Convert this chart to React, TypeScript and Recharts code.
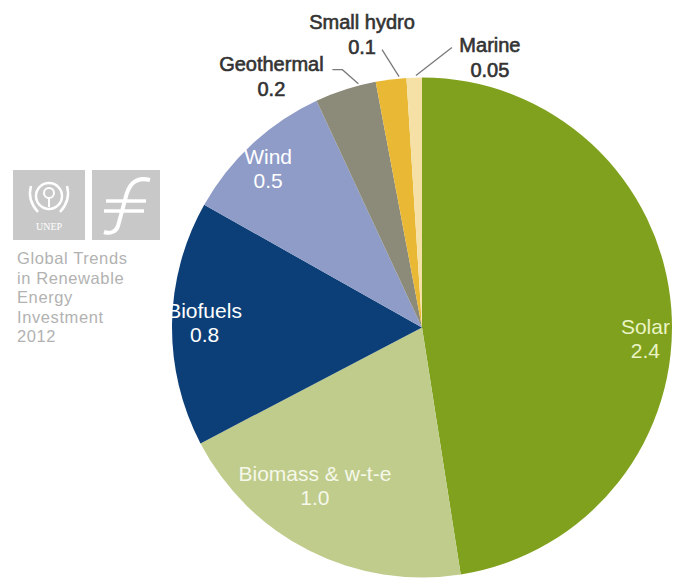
import { Cell, Pie, PieChart } from "recharts";

const sources = ["Solar", "Biomass & w-t-e", "Biofuels", "Wind", "Geothermal", "Small hydro", "Marine"];
const amounts = [2.4, 1.0, 0.8, 0.5, 0.2, 0.1, 0.05];
const amountLabels = ["2.4", "1.0", "0.8", "0.5", "0.2", "0.1", "0.05"];
const sliceColors = ["#80a11d", "#bfcc8c", "#0c3f77", "#8f9cc8", "#8c8a78", "#e9b935", "#f5e1a6"];
const noteLines = ["Global Trends", "in Renewable", "Energy", "Investment", "2012"];

const data = sources.map((name, i) => ({ name, value: amounts[i], text: amountLabels[i] }));

const RAD = Math.PI / 180;
const FONT = '"Liberation Sans", Arial, sans-serif';

// inside labels: radius factor + angle nudge (deg, counter-clockwise)
const insideCfg: Record<string, { rf: number; da: number; color: string }> = {
  Solar: { rf: 0.895, da: -7.5, color: "#eaf4c6" },
  "Biomass & w-t-e": { rf: 0.765, da: -7.3, color: "#f6f8ea" },
  Biofuels: { rf: 0.87, da: -0.4, color: "#ffffff" },
  Wind: { rf: 0.885, da: 1.3, color: "#ffffff" },
};

// outside labels: leader end on the slice edge, text and elbow offsets from it
const outsideCfg: Record<string, { da: number; tx: number; ty: number; pts: number[][] }> = {
  Geothermal: { da: -3.2, tx: -87, ty: -20, pts: [[-26, -14], [-16, -14]] },
  "Small hydro": { da: -1.9, tx: -37, ty: -55, pts: [[-17, -27]] },
  Marine: { da: -0.4, tx: 74, ty: -31, pts: [[36, -28]] },
};

function renderLabel(props: any) {
  const { cx, cy, midAngle, outerRadius, name, payload } = props;
  const label = payload?.text ?? "";
  const inCfg = insideCfg[name];
  if (inCfg) {
    const a = (midAngle + inCfg.da) * RAD;
    const x = cx + outerRadius * inCfg.rf * Math.cos(a);
    const y = cy - outerRadius * inCfg.rf * Math.sin(a);
    return (
      <text x={x} y={y} textAnchor="middle" fill={inCfg.color} fontSize={21} fontFamily={FONT}>
        <tspan x={x} dy={-5}>{name}</tspan>
        <tspan x={x} dy={24}>{label}</tspan>
      </text>
    );
  }
  const o = outsideCfg[name];
  if (!o) return null;
  const a = (midAngle + o.da) * RAD;
  const ex = cx + (outerRadius + 2) * Math.cos(a);
  const ey = cy - (outerRadius + 2) * Math.sin(a);
  const line = [...o.pts.map(([dx, dy]) => [ex + dx, ey + dy]), [ex, ey]]
    .map((p, i) => `${i === 0 ? "M" : "L"}${p[0]},${p[1]}`)
    .join(" ");
  const tx = ex + o.tx;
  const ty = ey + o.ty;
  return (
    <g>
      <path d={line} stroke="#7a7a7a" strokeWidth={1.3} fill="none" />
      <text
        x={tx}
        y={ty}
        textAnchor="middle"
        dominantBaseline="central"
        fill="#333"
        stroke="#333"
        strokeWidth={0.6}
        fontSize={20}
        fontFamily={FONT}
      >
        <tspan x={tx}>{name}</tspan>
        <tspan x={tx} dy={25}>{label}</tspan>
      </text>
    </g>
  );
}

function Badge() {
  return (
    <svg width={180} height={360} style={{ position: "absolute", left: 0, top: 0 }}>
      <rect x={13} y={170} width={72} height={70} fill="#c8c8c8" />
      <rect x={92} y={170} width={68} height={70} fill="#c8c8c8" />
      {/* UNEP globe + wreath */}
      <circle cx={49} cy={196} r={13} fill="none" stroke="#fff" strokeWidth={2.5} />
      <circle cx={49} cy={193} r={5} fill="none" stroke="#fff" strokeWidth={2} />
      <line x1={49} y1={198} x2={49} y2={207} stroke="#fff" strokeWidth={2} />
      <path d="M31 186 Q27 200 38 212" fill="none" stroke="#fff" strokeWidth={2.5} />
      <path d="M67 186 Q71 200 60 212" fill="none" stroke="#fff" strokeWidth={2.5} />
      <text x={49} y={230} textAnchor="middle" fill="#fff" fontSize={10} fontFamily="Liberation Serif, serif">
        UNEP
      </text>
      {/* stylised f */}
      <path d="M150 180 C134 176 128 186 125 200 L118 226 C116 232 110 234 104 232" fill="none" stroke="#fff" strokeWidth={4} />
      <line x1={106} y1={201} x2={146} y2={201} stroke="#fff" strokeWidth={3.5} />
      <line x1={104} y1={211} x2={144} y2={211} stroke="#fff" strokeWidth={3.5} />
      {noteLines.map((t, i) => (
        <text
          key={t}
          x={17}
          y={258 + i * 19.6}
          dominantBaseline="central"
          fill="#b2b2b2"
          fontSize={16.5}
          letterSpacing={0.6}
          fontFamily={FONT}
        >
          {t}
        </text>
      ))}
    </svg>
  );
}

export default function App() {
  return (
    <div style={{ position: "absolute", left: 0, top: 0, width: 678, height: 582, background: "#fff" }}>
      <PieChart width={678} height={582} margin={{ top: 0, right: 0, bottom: 0, left: 0 }}>
        <Pie
          data={data}
          dataKey="value"
          nameKey="name"
          cx={422}
          cy={327.5}
          outerRadius={250}
          startAngle={90}
          endAngle={-270}
          stroke="none"
          label={renderLabel}
          labelLine={false}
          isAnimationActive={false}
        >
          {data.map((d, i) => (
            <Cell key={d.name} fill={sliceColors[i]} />
          ))}
        </Pie>
      </PieChart>
      <Badge />
    </div>
  );
}
